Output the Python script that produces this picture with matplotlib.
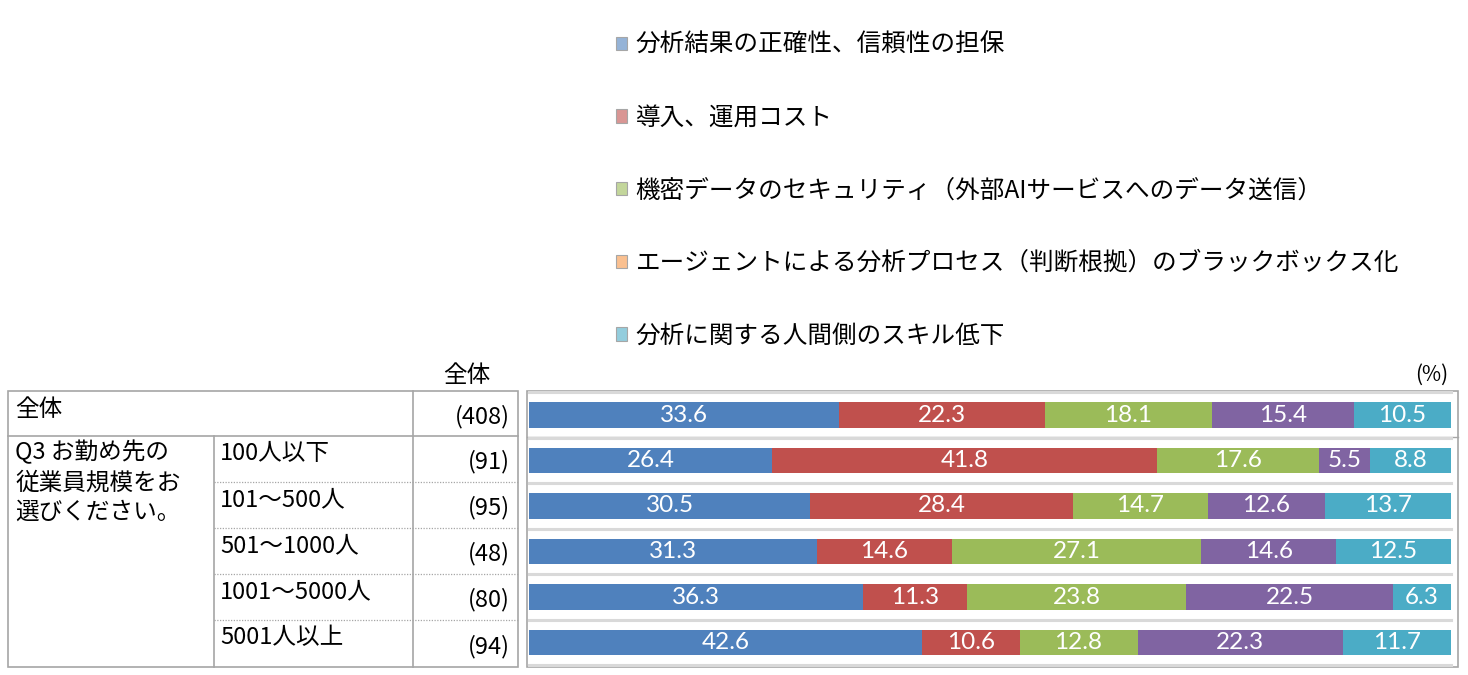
import matplotlib
matplotlib.use("Agg")
import matplotlib.pyplot as plt
from matplotlib.patches import Patch, Rectangle
import numpy as np

plt.rcParams['font.family'] = ['Noto Sans CJK JP', 'DejaVu Sans']

# ---- data ----
row_labels = ['全体', '100人以下', '101～500人', '501～1000人', '1001～5000人', '5001人以上']
n_labels = ['(408)', '(91)', '(95)', '(48)', '(80)', '(94)']
series_names = [
    '分析結果の正確性、信頼性の担保',
    '導入、運用コスト',
    '機密データのセキュリティ（外部AIサービスへのデータ送信）',
    'エージェントによる分析プロセス（判断根拠）のブラックボックス化',
    '分析に関する人間側のスキル低下',
]
s1 = [33.6, 26.4, 30.5, 31.3, 36.3, 42.6]
s2 = [22.3, 41.8, 28.4, 14.6, 11.3, 10.6]
s3 = [18.1, 17.6, 14.7, 27.1, 23.8, 12.8]
s4 = [15.4, 5.5, 12.6, 14.6, 22.5, 22.3]
s5 = [10.5, 8.8, 13.7, 12.5, 6.3, 11.7]
group_label = 'Q3 お勤め先の\n従業員規模をお\n選びください。'

bar_colors = ['#4F81BD', '#C0504D', '#9BBB59', '#8064A2', '#4BACC6']
legend_colors = ['#95B3D7', '#D99694', '#C3D69B', '#FAC090', '#93CDDD']

W, H = 1468, 675
fig = plt.figure(figsize=(W / 100, H / 100), dpi=100)

# overlay axes in pixel coordinates for table layout
ov = fig.add_axes([0, 0, 1, 1])
ov.set_xlim(0, W)
ov.set_ylim(H, 0)
ov.axis('off')

# bar axes
top_px, bot_px = 392.25, 665.25
left_px, right_px = 529, 1451
ax = fig.add_axes([left_px / W, 1 - bot_px / H, (right_px - left_px) / W, (bot_px - top_px) / H])
ax.set_xlim(0, 100)
nrows = len(row_labels)
ax.set_ylim(nrows - 0.5, -0.5)
ax.axis('off')

data = np.array([s1, s2, s3, s4, s5])
totals = data.sum(axis=0)
norm = data / totals * 100
y = np.arange(nrows)

# separators
for k in range(nrows + 1):
    ax.axhline(k - 0.5, color='#d9d9d9', lw=2.2, zorder=0, clip_on=False)

left = np.zeros(nrows)
for i in range(5):
    bars = ax.barh(y, norm[i], left=left, height=0.57, color=bar_colors[i], zorder=2)
    ax.bar_label(bars, labels=[f'{v:.1f}' for v in data[i]], label_type='center',
                 color='white', fontsize=17.5, family=['Lato', 'DejaVu Sans'])
    left += norm[i]

# plot frame
gc = '#a6a6a6'
ov.add_patch(Rectangle((527, 391), 1458 - 527, 667 - 391, fill=False, ec=gc, lw=1.2))
ov.plot([527, 1458], [437, 437], color=gc, lw=1.0)

# table lines
ov.add_patch(Rectangle((8, 391), 518 - 8, 667 - 391, fill=False, ec=gc, lw=1.2))
ov.plot([8, 518], [436, 436], color=gc, lw=1.2)
ov.plot([214, 214], [436, 667], color=gc, lw=1.2)
ov.plot([413, 413], [391, 667], color=gc, lw=1.2)
row_tops = [391, 436, 482, 528, 574, 620, 667]
for yy in row_tops[2:-1]:
    ov.plot([214, 518], [yy, yy], color='#a6a6a6', lw=0.9, ls=(0, (1, 1.2)))

tfs = 17
ov.text(15, 409, row_labels[0], fontsize=tfs, va='center', ha='left')
ov.text(15, 440, group_label, fontsize=tfs, va='top', ha='left', linespacing=1.38)
for r in range(nrows):
    t0, t1 = row_tops[r], row_tops[r + 1]
    ov.text(510, (t0 + t1) / 2 + 3, n_labels[r], fontsize=tfs, va='center', ha='right')
    if r > 0:
        ov.text(220, t0 + 18, row_labels[r], fontsize=tfs, va='center', ha='left')

ov.text(467, 375, '全体', fontsize=tfs, va='center', ha='center')
ov.text(1432, 375, '(%)', fontsize=15, va='center', ha='center')

# legend
handles = [Patch(facecolor=c, edgecolor='#a6a6a6', lw=0.8) for c in legend_colors]
fig.legend(handles, series_names, loc='upper left', bbox_to_anchor=(616 / W, 1 - 32 / H),
           frameon=False, fontsize=17.7, labelspacing=1.9, handlelength=0.45,
           handleheight=0.45, handletextpad=0.35, borderaxespad=0, borderpad=0)

fig.savefig('out.png', dpi=100)
